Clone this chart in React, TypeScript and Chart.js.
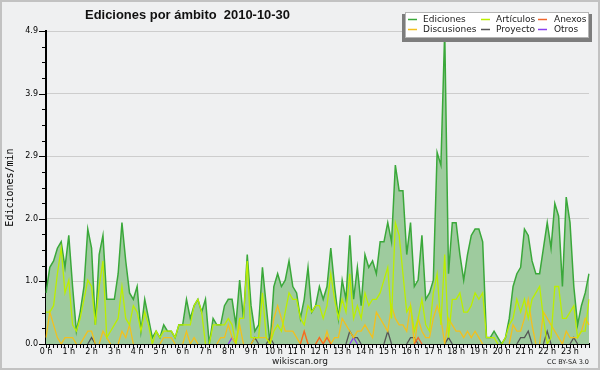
import React, { useEffect, useRef } from 'react';
import { Chart, registerables } from 'chart.js';

Chart.register(...registerables);

const TITLE = 'Ediciones por ámbito  2010-10-30';
const Y_TITLE = 'Ediciones/min';
const FOOTER = 'wikiscan.org';
const LICENSE = 'CC BY-SA 3.0';
const HOUR_SUFFIX = ' h';
const Y_MAX = 4.9;
const Y_TICK_COUNT = 21;

// 10-minute buckets, 00:00 .. 23:50
const TIMES: string[] = Array.from({ length: 144 }, (_, i) => `${Math.floor(i / 6)}:${String((i % 6) * 10).padStart(2, '0')}`);

const EDICIONES = [
  0.8, 1.2, 1.3, 1.5, 1.6, 1.2, 1.7, 0.9, 0.2, 0.5, 0.9, 1.8,
  1.5, 0.3, 1.4, 1.7, 0.7, 0.7, 0.7, 1.1, 1.9, 1.3, 0.8, 0.7,
  0.9, 0.2, 0.7, 0.4, 0.1, 0.2, 0.1, 0.3, 0.2, 0.2, 0.1, 0.3,
  0.3, 0.7, 0.4, 0.6, 0.7, 0.5, 0.7, 0.0, 0.4, 0.3, 0.3, 0.6,
  0.7, 0.7, 0.3, 1.0, 0.4, 1.4, 0.6, 0.2, 0.3, 1.2, 0.6, 0.0,
  0.9, 1.1, 0.9, 1.0, 1.3, 0.9, 0.8, 0.4, 0.7, 1.2, 0.5, 0.6,
  0.9, 0.7, 0.9, 1.5, 0.9, 0.4, 1.0, 0.7, 1.7, 0.7, 1.2, 0.6,
  1.4, 1.2, 1.3, 1.1, 1.6, 1.6, 1.9, 1.6, 2.8, 2.4, 2.4, 1.4,
  1.9, 0.9, 1.0, 1.7, 0.7, 0.8, 1.0, 3.0, 2.8, 4.9, 1.1, 1.9,
  1.9, 1.4, 1.0, 1.4, 1.7, 1.8, 1.8, 1.6, 0.1, 0.1, 0.2, 0.1,
  0.0, 0.1, 0.4, 0.9, 1.1, 1.2, 1.8, 1.7, 1.3, 1.1, 1.1, 1.5,
  1.9, 1.5, 2.2, 2.0, 0.9, 2.3, 1.9, 0.9, 0.3, 0.6, 0.8, 1.1,
];

const ARTICULOS = [
  0.5, 0.5, 0.6, 1.1, 1.5, 0.8, 1.0, 0.3, 0.2, 0.4, 0.7, 1.0,
  0.9, 0.3, 0.9, 1.3, 0.1, 0.2, 0.3, 0.4, 0.9, 0.4, 0.3, 0.6,
  0.5, 0.2, 0.5, 0.3, 0.0, 0.2, 0.1, 0.2, 0.2, 0.2, 0.1, 0.3,
  0.3, 0.3, 0.3, 0.6, 0.7, 0.5, 0.0, 0.0, 0.3, 0.3, 0.3, 0.3,
  0.4, 0.3, 0.0, 0.4, 0.4, 1.3, 0.1, 0.1, 0.1, 0.8, 0.1, 0.0,
  0.2, 0.3, 0.2, 0.5, 0.8, 0.7, 0.7, 0.4, 0.3, 0.6, 0.5, 0.6,
  0.6, 0.4, 0.6, 1.1, 0.7, 0.4, 0.7, 0.5, 1.1, 0.4, 0.6, 0.4,
  0.8, 0.6, 0.7, 0.7, 0.8, 1.0, 1.2, 0.4, 1.9, 1.7, 1.1, 0.5,
  0.6, 0.2, 0.4, 0.7, 0.3, 0.2, 0.8, 1.1, 0.3, 1.4, 0.1, 0.7,
  0.7, 0.8, 0.5, 0.5, 0.6, 0.8, 0.7, 0.8, 0.1, 0.1, 0.1, 0.0,
  0.0, 0.1, 0.3, 0.4, 0.7, 0.5, 0.7, 0.4, 0.7, 0.8, 0.9, 0.4,
  0.0, 0.1, 0.9, 0.9, 0.4, 0.4, 0.5, 0.6, 0.1, 0.2, 0.2, 0.7,
];

const ANEXOS = [
  0, 0, 0, 0, 0, 0, 0, 0, 0, 0, 0, 0,
  0, 0, 0, 0, 0, 0, 0, 0, 0, 0, 0, 0,
  0, 0, 0, 0, 0, 0, 0, 0, 0, 0, 0, 0,
  0, 0, 0, 0, 0, 0, 0, 0, 0, 0, 0, 0,
  0, 0, 0, 0, 0, 0, 0, 0, 0, 0, 0, 0,
  0, 0, 0, 0, 0, 0, 0, 0, 0.2, 0, 0, 0,
  0.1, 0, 0.1, 0, 0, 0, 0, 0, 0, 0, 0, 0,
  0, 0, 0, 0, 0, 0, 0, 0, 0, 0, 0, 0,
  0, 0, 0.1, 0, 0, 0, 0, 0, 0, 0, 0, 0,
  0, 0, 0, 0, 0, 0, 0, 0, 0, 0, 0, 0,
  0, 0, 0, 0, 0, 0, 0, 0, 0, 0, 0, 0,
  0, 0, 0, 0, 0, 0, 0, 0, 0, 0, 0, 0,
];

const DISCUSIONES = [
  0.1, 0.5, 0.3, 0.1, 0.0, 0.1, 0.1, 0.1, 0.0, 0.0, 0.1, 0.2,
  0.2, 0.0, 0.0, 0.2, 0.1, 0.0, 0.0, 0.0, 0.2, 0.1, 0.3, 0.0,
  0.0, 0.0, 0.0, 0.0, 0.0, 0.0, 0.0, 0.1, 0.1, 0.1, 0.0, 0.0,
  0.0, 0.2, 0.0, 0.1, 0.0, 0.0, 0.0, 0.0, 0.0, 0.0, 0.1, 0.1,
  0.3, 0.1, 0.0, 0.3, 0.0, 0.0, 0.0, 0.1, 0.1, 0.1, 0.1, 0.0,
  0.4, 0.6, 0.4, 0.2, 0.2, 0.2, 0.1, 0.0, 0.2, 0.0, 0.0, 0.0,
  0.1, 0.0, 0.2, 0.0, 0.1, 0.1, 0.4, 0.3, 0.2, 0.1, 0.2, 0.2,
  0.3, 0.2, 0.1, 0.5, 0.4, 0.3, 0.2, 0.6, 0.4, 0.3, 0.3, 0.2,
  0.6, 0.0, 0.4, 0.2, 0.1, 0.1, 0.4, 0.6, 0.4, 0.0, 0.4, 0.3,
  0.2, 0.2, 0.1, 0.2, 0.1, 0.2, 0.1, 0.0, 0.0, 0.0, 0.0, 0.0,
  0.0, 0.0, 0.0, 0.3, 0.2, 0.2, 0.4, 0.7, 0.3, 0.0, 0.0, 0.5,
  0.4, 0.3, 0.2, 0.1, 0.0, 0.2, 0.1, 0.1, 0.1, 0.2, 0.4, 0.3,
];

const PROYECTO = [
  0, 0, 0, 0, 0, 0, 0, 0, 0, 0, 0, 0,
  0.1, 0, 0, 0, 0, 0, 0, 0, 0, 0, 0, 0,
  0, 0, 0, 0, 0, 0, 0, 0, 0, 0, 0, 0,
  0, 0, 0, 0, 0, 0, 0, 0, 0, 0, 0, 0,
  0, 0, 0, 0, 0, 0, 0, 0.1, 0, 0, 0, 0.1,
  0, 0, 0, 0, 0, 0, 0, 0, 0, 0, 0, 0,
  0, 0, 0, 0, 0, 0, 0, 0, 0.2, 0.1, 0.1, 0,
  0, 0, 0, 0, 0, 0, 0.2, 0, 0, 0, 0, 0,
  0.1, 0.1, 0, 0, 0, 0, 0, 0, 0, 0, 0.1, 0,
  0, 0, 0, 0, 0, 0, 0, 0, 0, 0, 0, 0,
  0, 0, 0, 0, 0, 0.1, 0.1, 0.2, 0, 0, 0, 0,
  0.2, 0, 0, 0, 0, 0, 0, 0.1, 0, 0, 0, 0,
];

const OTROS = [
  0, 0, 0, 0, 0, 0, 0, 0, 0, 0, 0, 0,
  0, 0, 0, 0, 0, 0, 0, 0, 0, 0, 0, 0,
  0, 0, 0, 0, 0, 0, 0, 0, 0, 0, 0, 0,
  0, 0, 0, 0, 0, 0, 0, 0, 0, 0, 0, 0,
  0, 0.1, 0, 0, 0, 0, 0, 0, 0, 0, 0, 0,
  0, 0, 0, 0, 0, 0, 0, 0, 0, 0, 0, 0,
  0, 0, 0, 0, 0, 0, 0, 0, 0, 0.1, 0, 0,
  0, 0, 0, 0, 0, 0, 0, 0, 0, 0, 0, 0,
  0, 0, 0, 0, 0, 0, 0, 0, 0, 0, 0, 0,
  0, 0, 0, 0, 0, 0, 0, 0, 0, 0, 0, 0,
  0, 0, 0, 0, 0, 0, 0, 0, 0, 0, 0, 0,
  0, 0, 0, 0, 0, 0, 0, 0, 0, 0, 0, 0,
];

const SERIES_LABELS = ['Ediciones', 'Artículos', 'Anexos', 'Discusiones', 'Proyecto', 'Otros'];
const COLORS = ['#3aa83a', '#bbee00', '#f0662c', '#f2c01e', '#555555', '#8a40ee'];
const FILL_EDICIONES = '#9ecb9e';
const BG = '#eff0f1';

const bgPlugin = {
  id: 'bgPlugin',
  beforeDraw(chart: any) {
    const ctx = chart.ctx;
    ctx.save();
    ctx.fillStyle = BG;
    ctx.fillRect(0, 0, chart.width, chart.height);
    ctx.strokeStyle = '#c2c2c2';
    ctx.lineWidth = 2;
    ctx.strokeRect(1, 1, chart.width - 2, chart.height - 2);
    ctx.restore();
  },
};

const decorPlugin = {
  id: 'decorPlugin',
  afterDraw(chart: any) {
    const ctx = chart.ctx;
    const ys = chart.scales.y;
    ctx.save();
    // y tick marks (major / minor)
    ctx.strokeStyle = '#000';
    ctx.lineWidth = 1;
    ctx.beginPath();
    ys.ticks.forEach((_t: any, i: number) => {
      const y = Math.round(ys.getPixelForTick(i)) + 0.5;
      const len = i % 4 === 0 ? 7 : 4;
      ctx.moveTo(ys.right - len, y);
      ctx.lineTo(ys.right, y);
    });
    ctx.stroke();

    // title
    ctx.fillStyle = '#111';
    ctx.font = 'bold 13px "Liberation Sans"';
    ctx.textBaseline = 'alphabetic';
    ctx.textAlign = 'left';
    const tw = ctx.measureText(TITLE).width;
    const target = 205;
    ctx.save();
    ctx.translate(85, 18.5);
    ctx.scale(target / tw, 1);
    ctx.fillText(TITLE, 0, 0);
    ctx.restore();

    // legend box
    ctx.fillStyle = '#7d7d7d';
    ctx.fillRect(402, 14, 190, 28);
    ctx.fillStyle = '#ffffff';
    ctx.fillRect(405, 12, 184, 26);
    ctx.strokeStyle = '#b4b4b4';
    ctx.lineWidth = 1;
    ctx.strokeRect(405.5, 12.5, 183, 25);
    const lineX = [408, 481, 538];
    const textX = [423, 496, 554];
    const midY = [19, 29];
    ctx.font = '9px "DejaVu Sans"';
    chart.data.datasets.forEach((ds: any, i: number) => {
      const col = i % 3;
      const row = Math.floor(i / 3);
      ctx.strokeStyle = COLORS[i];
      ctx.lineWidth = 1.5;
      ctx.beginPath();
      ctx.moveTo(lineX[col], midY[row] + 0.5);
      ctx.lineTo(lineX[col] + 9, midY[row] + 0.5);
      ctx.stroke();
      ctx.fillStyle = '#222';
      ctx.textBaseline = 'middle';
      ctx.fillText(ds.label, textX[col], midY[row] + 0.5);
    });

    // footer
    ctx.fillStyle = '#222';
    ctx.textBaseline = 'alphabetic';
    ctx.textAlign = 'center';
    ctx.font = '9px "DejaVu Sans"';
    ctx.fillText(FOOTER, 300, 364);
    ctx.textAlign = 'right';
    ctx.font = '6.5px "DejaVu Sans"';
    ctx.fillText(LICENSE, 589, 364);
    ctx.restore();
  },
};

export default function App() {
  const ref = useRef<HTMLCanvasElement>(null);
  useEffect(() => {
    document.body.style.margin = '0';
    const canvas = ref.current!;
    const zeroSeg = {
      borderColor: (c: any) => (c.p0.parsed.y === 0 && c.p1.parsed.y === 0 ? 'rgba(0,0,0,0)' : undefined),
    };
    const lineDs = (i: number, data: number[]) => ({
      label: SERIES_LABELS[i],
      data,
      borderColor: COLORS[i],
      backgroundColor: COLORS[i],
      borderWidth: 1.3,
      pointRadius: 0,
      tension: 0,
      fill: false,
      order: 0,
      segment: zeroSeg,
    });
    const chart = new Chart(canvas, {
      type: 'line',
      data: {
        labels: TIMES,
        datasets: [
          {
            label: SERIES_LABELS[0],
            data: EDICIONES,
            borderColor: COLORS[0],
            backgroundColor: FILL_EDICIONES,
            fill: 'origin',
            borderWidth: 1.5,
            pointRadius: 0,
            tension: 0,
            order: 1,
          },
          lineDs(1, ARTICULOS),
          lineDs(2, ANEXOS),
          lineDs(3, DISCUSIONES),
          lineDs(4, PROYECTO),
          lineDs(5, OTROS),
        ],
      },
      options: {
        responsive: false,
        animation: false,
        events: [],
        layout: { padding: { left: 0, right: 11, top: 31, bottom: 8 } },
        plugins: {
          legend: { display: false },
          title: { display: false },
          tooltip: { enabled: false },
        },
        scales: {
          x: {
            type: 'category',
            offset: false,
            grid: { drawOnChartArea: false, drawTicks: true, tickLength: 4, tickColor: '#000', tickWidth: 1, offset: false },
            border: { display: true, color: '#000', width: 2 },
            ticks: {
              autoSkip: false,
              maxRotation: 0,
              minRotation: 0,
              padding: -1,
              color: '#000',
              font: { family: 'DejaVu Sans', size: 8 },
              callback: (_v: any, i: number) => (i % 6 === 0 ? `${i / 6}${HOUR_SUFFIX}` : ''),
            },
            afterFit: (s: any) => { s.height = 18; },
          },
          y: {
            min: 0,
            max: Y_MAX,
            grid: {
              color: (c: any) => (c.index % 4 === 0 && c.index > 0 ? '#cdcdcd' : 'rgba(0,0,0,0)'),
              drawTicks: false,
              lineWidth: 1,
            },
            border: { display: true, color: '#000', width: 2 },
            ticks: {
              count: Y_TICK_COUNT,
              maxTicksLimit: 50,
              autoSkip: false,
              padding: 8,
              color: '#000',
              font: { family: 'DejaVu Sans', size: 8 },
              callback: (v: any, i: number) => (i % 4 === 0 ? Number(v).toFixed(1) : ''),
            },
            title: {
              display: true,
              text: Y_TITLE,
              color: '#000',
              font: { family: 'DejaVu Sans Mono', size: 10 },
              padding: { top: 4, bottom: 0 },
            },
            afterFit: (s: any) => { s.width = 46; },
          },
        },
      },
      plugins: [bgPlugin, decorPlugin],
    } as any);
    return () => chart.destroy();
  }, []);
  return (
    <div style={{ width: 600, height: 370 }}>
      <canvas ref={ref} width={600} height={370} style={{ display: 'block' }} />
    </div>
  );
}
